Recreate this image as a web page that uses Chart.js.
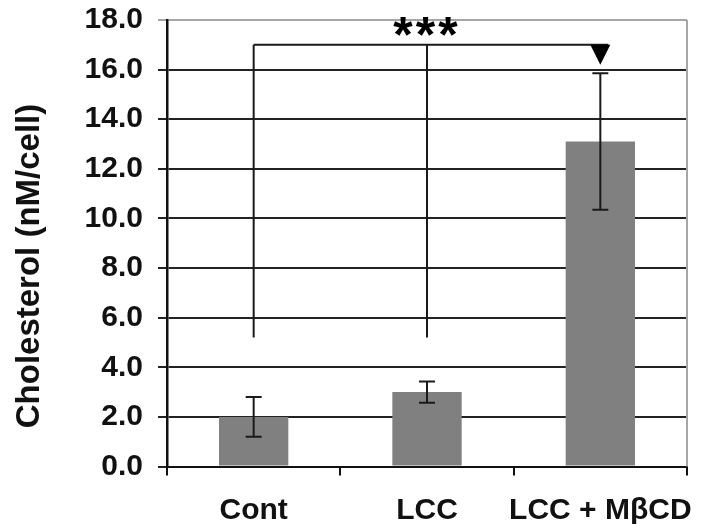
<!DOCTYPE html>
<html>
<head>
<meta charset="utf-8">
<script src="https://cdn.jsdelivr.net/npm/chart.js@4.4.1/dist/chart.umd.min.js"></script>
<style>
  html, body { margin: 0; padding: 0; background: #fff; }
  #wrap { width: 716px; height: 524px; }
</style>
</head>
<body>
<div id="wrap"><canvas id="myChart" width="716" height="524"></canvas></div>
<script>
const categories = ['Cont', 'LCC', 'LCC + M\u03B2CD'];
const means = [2.0, 3.0, 13.1];
const errors = [0.8, 0.43, 2.75];
const yTicks = [0, 2, 4, 6, 8, 10, 12, 14, 16, 18];

// significance bracket (in data units)
const bracketFrom = [0, 1];
const bracketTo = 2;
const bracketLevel = 17.0;
const bracketLegBottom = 5.2;
const arrowTip = 16.2;
const sigLabel = '***';

const yTitle = 'Cholesterol (nM/cell)';
const FONT = "'Liberation Sans', Arial, sans-serif";

const data = {
  labels: categories,
  datasets: [{
    data: means,
    backgroundColor: '#808080',
    borderWidth: 0,
    barPercentage: 0.4,
    categoryPercentage: 1.0
  }]
};

// error bars, bracket, right border, axis title
const annotate = {
  id: 'annotate',
  afterDatasetsDraw(chart) {
    const {ctx, chartArea: {top, bottom, right}, scales: {y}} = chart;
    const bars = chart.getDatasetMeta(0).data;
    ctx.save();

    // plot area right border
    ctx.strokeStyle = '#a6a6a6';
    ctx.lineWidth = 2;
    ctx.beginPath();
    ctx.moveTo(right, top);
    ctx.lineTo(right, bottom);
    ctx.stroke();

    // error bars
    ctx.strokeStyle = '#1a1a1a';
    ctx.lineWidth = 2;
    bars.forEach((bar, i) => {
      const hi = y.getPixelForValue(means[i] + errors[i]);
      const lo = y.getPixelForValue(means[i] - errors[i]);
      ctx.beginPath();
      ctx.moveTo(bar.x, hi);
      ctx.lineTo(bar.x, lo);
      ctx.moveTo(bar.x - 8, hi);
      ctx.lineTo(bar.x + 8, hi);
      ctx.moveTo(bar.x - 8, lo);
      ctx.lineTo(bar.x + 8, lo);
      ctx.stroke();
    });

    // bracket
    const yb = y.getPixelForValue(bracketLevel);
    const yLeg = y.getPixelForValue(bracketLegBottom);
    const xEnd = bars[bracketTo].x;
    ctx.beginPath();
    bracketFrom.forEach((i) => {
      ctx.moveTo(bars[i].x, yLeg);
      ctx.lineTo(bars[i].x, yb);
    });
    ctx.moveTo(bars[bracketFrom[0]].x, yb);
    ctx.lineTo(xEnd + 8, yb);
    ctx.stroke();

    const tip = y.getPixelForValue(arrowTip);
    ctx.fillStyle = '#000';
    ctx.beginPath();
    ctx.moveTo(xEnd - 10, yb);
    ctx.lineTo(xEnd + 10, yb);
    ctx.lineTo(xEnd, tip);
    ctx.closePath();
    ctx.fill();

    ctx.font = 'bold 50px ' + FONT;
    ctx.letterSpacing = '3px';
    ctx.textAlign = 'center';
    ctx.textBaseline = 'alphabetic';
    ctx.fillText(sigLabel, bars[1].x, yb + 7);
    ctx.letterSpacing = '0px';

    // y axis title
    ctx.translate(30, 266);
    ctx.rotate(-Math.PI / 2);
    ctx.font = 'bold 33px ' + FONT;
    ctx.textBaseline = 'middle';
    ctx.fillStyle = '#111';
    ctx.fillText(yTitle, 0, 0);

    ctx.restore();
  }
};

const config = {
  type: 'bar',
  data,
  options: {
    responsive: false,
    animation: false,
    layout: { padding: { left: 0, right: 29, top: 20, bottom: 0 } },
    plugins: { legend: { display: false }, tooltip: { enabled: false } },
    scales: {
      x: {
        afterFit: (scale) => {
          scale.height = 57.5;
          scale.paddingLeft = 0;
          scale.paddingRight = 0;
        },
        border: { color: '#111', width: 2 },
        grid: {
          offset: true,
          drawOnChartArea: false,
          drawTicks: true,
          tickLength: 9,
          color: '#111',
          lineWidth: 2
        },
        ticks: {
          color: '#111',
          font: { family: FONT, size: 30, weight: 'bold' },
          padding: 17,
          maxRotation: 0,
          autoSkip: false
        }
      },
      y: {
        min: 0,
        max: 18,
        afterFit: (scale) => {
          scale.width = 167;
          scale.paddingTop = 0;
          scale.paddingBottom = 0;
        },
        afterBuildTicks: (scale) => { scale.ticks = yTicks.map(v => ({ value: v })); },
        border: { color: '#111', width: 2.5 },
        grid: {
          drawTicks: true,
          tickLength: 9,
          lineWidth: 2,
          color: (ctx) => ctx.tick && ctx.tick.value === 18 ? '#a6a6a6' : '#222'
        },
        ticks: {
          color: '#111',
          font: { family: FONT, size: 30, weight: 'bold' },
          padding: 15,
          callback: (v) => Number(v).toFixed(1)
        }
      }
    }
  },
  plugins: [annotate]
};

const myChart = new Chart(document.getElementById('myChart'), config);
</script>
</body>
</html>
